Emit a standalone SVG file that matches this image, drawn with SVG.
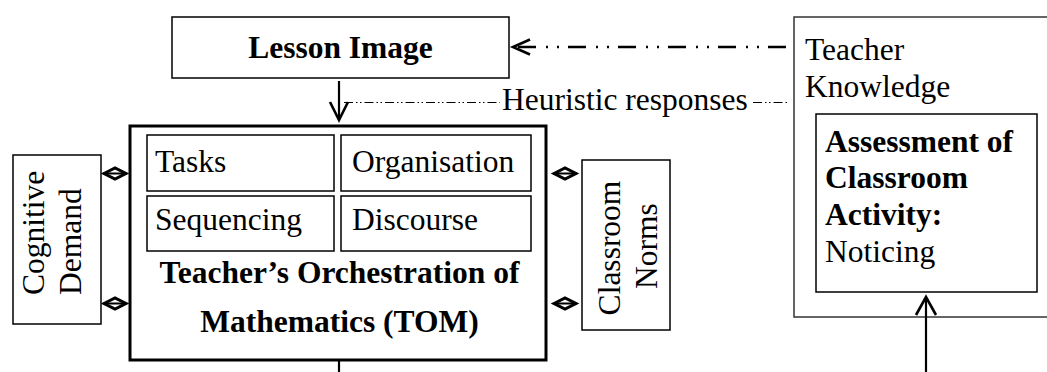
<svg xmlns="http://www.w3.org/2000/svg" width="1047" height="372" viewBox="0 0 1047 372">
<style>
  text { font-family: "Liberation Serif", "Times New Roman", serif; font-size: 31.5px; fill: #000; }
  .b { font-weight: bold; }
  .box { fill: #fff; stroke: #000; stroke-width: 1.5; }
  .thick { fill: #fff; stroke: #000; stroke-width: 3; }
  .outer { fill: #fff; stroke: #333; stroke-width: 1.5; }
  .ln { fill: none; stroke: #000; stroke-width: 2.2; }
  .head { fill: none; stroke: #000; stroke-width: 2.6; stroke-linejoin: miter; }
  .dd { fill: none; stroke: #000; stroke-width: 2.5; stroke-dasharray: 18 9 2 9 2 10; }
  .thin { fill: none; stroke: #000; stroke-width: 1; stroke-dasharray: 9 3 1.5 2.5 1.5 3; }
  .dia { fill: #fff; stroke: #000; stroke-width: 3; stroke-linejoin: miter; }
  .dl { fill: none; stroke: #000; stroke-width: 2; }
</style>
<defs>
  <g id="diamond">
    <path class="dia" d="M-11,0 L0,-5.5 L11,0 L0,5.5 Z"/>
    <path class="dl" d="M-12,0 H12"/>
  </g>
</defs>

<g id="teacher-knowledge">
  <rect class="outer" x="794" y="17" width="270" height="300"/>
  <text x="805" y="60">Teacher</text>
  <text x="805" y="97">Knowledge</text>
</g>

<g id="assessment">
  <rect class="box" x="816" y="114" width="221" height="178"/>
  <text class="b" x="825" y="152">Assessment of</text>
  <text class="b" x="825" y="188">Classroom</text>
  <text class="b" x="825" y="225">Activity:</text>
  <text x="825" y="262">Noticing</text>
</g>

<g id="lesson-image">
  <rect class="box" x="172" y="17" width="337" height="61"/>
  <text class="b" x="340.5" y="58" text-anchor="middle">Lesson Image</text>
</g>

<g id="tom">
  <rect class="thick" x="130" y="126" width="416" height="234"/>
  <text class="b" x="339.5" y="283" text-anchor="middle">Teacher’s Orchestration of</text>
  <text class="b" x="339.5" y="332" text-anchor="middle">Mathematics (TOM)</text>
</g>

<g id="tasks">
  <rect class="box" x="147" y="135" width="187" height="56"/>
  <text x="155" y="172">Tasks</text>
</g>
<g id="organisation">
  <rect class="box" x="341" y="135" width="190" height="56"/>
  <text x="352" y="172">Organisation</text>
</g>
<g id="sequencing">
  <rect class="box" x="147" y="196" width="187" height="55"/>
  <text x="155" y="230">Sequencing</text>
</g>
<g id="discourse">
  <rect class="box" x="341" y="196" width="190" height="55"/>
  <text x="352" y="230">Discourse</text>
</g>

<g id="cognitive-demand">
  <rect class="box" x="13" y="155" width="88" height="169"/>
  <text transform="translate(44,295) rotate(-90)">Cognitive</text>
  <text transform="translate(81,295) rotate(-90)">Demand</text>
</g>

<g id="classroom-norms">
  <rect class="box" x="582" y="160" width="88" height="170"/>
  <text transform="translate(620,248) rotate(-90)" text-anchor="middle">Classroom</text>
  <text transform="translate(657,246) rotate(-90)" text-anchor="middle">Norms</text>
</g>

<g id="connectors">
  <path class="dd" d="M786,47 H514"/>
  <path class="head" d="M530,39.5 L513,47 L530,54.5"/>
  <path class="ln" d="M339,81 V120"/>
  <path class="head" d="M330,102 L339,120 L348,102"/>
  <path class="thin" d="M344,102.5 H500"/>
  <path class="thin" d="M753,102.5 H787"/>
  <text x="502" y="110">Heuristic responses</text>
  <path class="ln" d="M339,360 V372"/>
  <path class="ln" d="M926,372 V298"/>
  <path class="head" d="M916,315 L926,297 L936,315"/>
  <use href="#diamond" x="115" y="173.5"/>
  <use href="#diamond" x="115" y="303.5"/>
  <use href="#diamond" x="565" y="173.5"/>
  <use href="#diamond" x="565" y="303.5"/>
</g>
</svg>
